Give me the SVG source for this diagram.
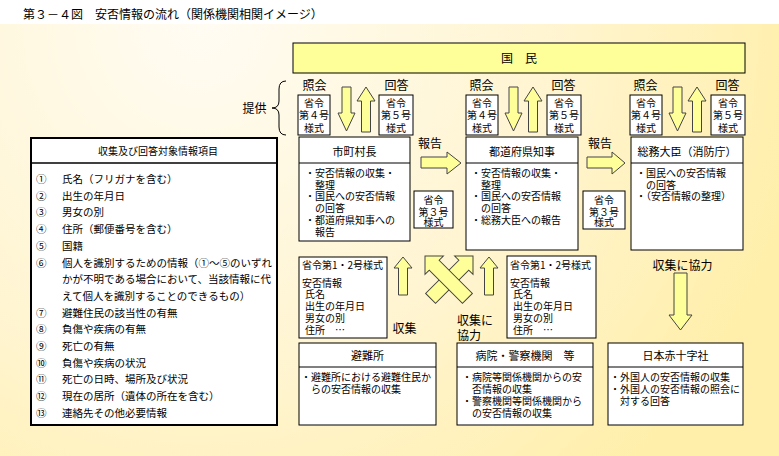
<svg xmlns="http://www.w3.org/2000/svg" width="779" height="456" viewBox="0 0 779 456">
<defs>
<radialGradient id="bg" gradientUnits="userSpaceOnUse" cx="200" cy="24" r="620">
<stop offset="0" stop-color="#FFFCF3"/>
<stop offset="0.55" stop-color="#FFF5D2"/>
<stop offset="1" stop-color="#FFEFAA"/>
</radialGradient>
<style>
text{font-family:"Noto Sans CJK JP","Noto Sans CJK SC",sans-serif;fill:#000}
.t12{font-size:12px}
.t11{font-size:11px}
.t10{font-size:10px}
.t105{font-size:10.5px}
.c{text-anchor:middle}
.box{fill:#fff;stroke:#000;stroke-width:1}
.line{stroke:#000;stroke-width:1;fill:none}
.arr{fill:#FFFF99;stroke:#444;stroke-width:1;stroke-linejoin:miter}
</style>
</defs>
<rect x="0" y="0" width="779" height="456" fill="#fff"/>
<rect x="0" y="24" width="779" height="432" fill="url(#bg)"/>
<text class="t12" x="23" y="18.5">第３－４図　安否情報の流れ（関係機関相関イメージ）</text>

<g id="kokumin">
<rect x="293" y="43" width="452" height="30" fill="#FFFF99" stroke="#000" stroke-width="1"/>
<text class="t12 c" x="519" y="63">国　民</text>
</g>

<g id="form4-1"><rect class="box" x="298" y="95" width="32" height="40"/><text class="t10 c" x="314" y="106.5">省令</text><text class="t10 c" x="314" y="119">第４号</text><text class="t10 c" x="314" y="131.5">様式</text></g>
<g id="form5-1"><rect class="box" x="379" y="95" width="34" height="40"/><text class="t10 c" x="396" y="106.5">省令</text><text class="t10 c" x="396" y="119">第５号</text><text class="t10 c" x="396" y="131.5">様式</text></g>
<g id="form4-2" transform="translate(168,0)"><rect class="box" x="298" y="95" width="32" height="40"/><text class="t10 c" x="314" y="106.5">省令</text><text class="t10 c" x="314" y="119">第４号</text><text class="t10 c" x="314" y="131.5">様式</text></g>
<g id="form5-2" transform="translate(168,0)"><rect class="box" x="379" y="95" width="34" height="40"/><text class="t10 c" x="396" y="106.5">省令</text><text class="t10 c" x="396" y="119">第５号</text><text class="t10 c" x="396" y="131.5">様式</text></g>
<g id="form4-3" transform="translate(332,0)"><rect class="box" x="298" y="95" width="32" height="40"/><text class="t10 c" x="314" y="106.5">省令</text><text class="t10 c" x="314" y="119">第４号</text><text class="t10 c" x="314" y="131.5">様式</text></g>
<g id="form5-3" transform="translate(332,0)"><rect class="box" x="379" y="95" width="34" height="40"/><text class="t10 c" x="396" y="106.5">省令</text><text class="t10 c" x="396" y="119">第５号</text><text class="t10 c" x="396" y="131.5">様式</text></g>

<g id="shichoson">
<rect class="box" x="299" y="137" width="111" height="104"/>
<line class="line" x1="299" y1="163" x2="410" y2="163"/>
<text class="t11 c" x="354.5" y="155.5">市町村長</text>
<text class="t10" x="305" y="177">・安否情報の収集・</text>
<text class="t10" x="315" y="188.7">整理</text>
<text class="t10" x="305" y="200.4">・国民への安否情報</text>
<text class="t10" x="315" y="212.1">の回答</text>
<text class="t10" x="305" y="223.8">・都道府県知事への</text>
<text class="t10" x="315" y="235.5">報告</text>
</g>

<g id="todofuken">
<rect class="box" x="466" y="137" width="112" height="113"/>
<line class="line" x1="466" y1="163" x2="578" y2="163"/>
<text class="t11 c" x="522" y="155.5">都道府県知事</text>
<text class="t10" x="471" y="177">・安否情報の収集・</text>
<text class="t10" x="481" y="188.7">整理</text>
<text class="t10" x="471" y="200.4">・国民への安否情報</text>
<text class="t10" x="481" y="212.1">の回答</text>
<text class="t10" x="471" y="223.8">・総務大臣への報告</text>
</g>

<g id="somu">
<rect class="box" x="631" y="137" width="112" height="113"/>
<line class="line" x1="631" y1="163" x2="743" y2="163"/>
<text class="t11 c" x="687" y="155.5">総務大臣（消防庁）</text>
<text class="t10" x="636" y="177">・国民への安否情報</text>
<text class="t10" x="646" y="188.7">の回答</text>
<text class="t10" x="636" y="200.4">・（安否情報の整理）</text>
</g>

<g id="form3-1"><rect class="box" x="414" y="191" width="39" height="37"/><text class="t10 c" x="433.5" y="204">省令</text><text class="t10 c" x="433.5" y="215.7">第３号</text><text class="t10 c" x="433.5" y="227.3" dy="-1">様式</text></g>
<g id="form3-2"><rect class="box" x="583" y="191" width="42" height="38"/><text class="t10 c" x="604" y="204">省令</text><text class="t10 c" x="604" y="215.7">第３号</text><text class="t10 c" x="604" y="227.3" dy="-1">様式</text></g>

<g id="form12-1">
<rect class="box" x="299" y="257" width="88" height="81"/>
<text class="t10" x="302" y="269">省令第1・2号様式</text>
<text class="t10" x="302" y="286.5">安否情報</text>
<text class="t10" x="305" y="298">氏名</text>
<text class="t10" x="305" y="310">出生の年月日</text>
<text class="t10" x="305" y="322">男女の別</text>
<text class="t10" x="305" y="334">住所　…</text>
</g>
<g id="form12-2">
<rect class="box" x="507" y="256" width="89" height="82"/>
<text class="t10" x="510" y="269">省令第1・2号様式</text>
<text class="t10" x="510" y="286.5">安否情報</text>
<text class="t10" x="513" y="298">氏名</text>
<text class="t10" x="513" y="310">出生の年月日</text>
<text class="t10" x="513" y="322">男女の別</text>
<text class="t10" x="513" y="334">住所　…</text>
</g>

<g id="hinanjo">
<rect class="box" x="299" y="343" width="137" height="82"/>
<line class="line" x1="299" y1="367" x2="436" y2="367"/>
<text class="t11 c" x="367.5" y="359.5">避難所</text>
<text class="t10" x="301" y="381">・避難所における避難住民か</text>
<text class="t10" x="311" y="393">らの安否情報の収集</text>
</g>

<g id="byoin">
<rect class="box" x="457" y="343" width="136" height="82"/>
<line class="line" x1="457" y1="367" x2="593" y2="367"/>
<text class="t11 c" x="525" y="359.5">病院・警察機関　等</text>
<text class="t10" x="462" y="381">・病院等関係機関からの安</text>
<text class="t10" x="472" y="393">否情報の収集</text>
<text class="t10" x="462" y="405">・警察機関等関係機関から</text>
<text class="t10" x="472" y="417">の安否情報の収集</text>
</g>

<g id="sekijuji">
<rect class="box" x="608" y="343" width="135" height="82"/>
<line class="line" x1="608" y1="367" x2="743" y2="367"/>
<text class="t11 c" x="675.5" y="359.5">日本赤十字社</text>
<text class="t10" x="610" y="381">・外国人の安否情報の収集</text>
<text class="t10" x="610" y="393">・外国人の安否情報の照会に</text>
<text class="t10" x="620" y="405">対する回答</text>
</g>

<g id="list">
<rect x="31" y="138" width="246" height="287" fill="#fff" stroke="#000" stroke-width="2"/>
<line x1="31" y1="163" x2="277" y2="163" stroke="#000" stroke-width="1.5"/>
<text class="t10 c" x="158" y="155">収集及び回答対象情報項目</text>
<g class="t105">
<text x="36" y="183">①</text><text x="62" y="183">氏名（フリガナを含む）</text>
<text x="36" y="199.7">②</text><text x="62" y="199.7">出生の年月日</text>
<text x="36" y="216.4">③</text><text x="62" y="216.4">男女の別</text>
<text x="36" y="233.1">④</text><text x="62" y="233.1">住所（郵便番号を含む）</text>
<text x="36" y="249.8">⑤</text><text x="62" y="249.8">国籍</text>
<text x="36" y="266.5">⑥</text><text x="62" y="266.5">個人を識別するための情報（①～⑤のいずれ</text>
<text x="62" y="283.2">かが不明である場合において、当該情報に代</text>
<text x="62" y="299.9">えて個人を識別することのできるもの）</text>
<text x="36" y="316.6">⑦</text><text x="62" y="316.6">避難住民の該当性の有無</text>
<text x="36" y="333.3">⑧</text><text x="62" y="333.3">負傷や疾病の有無</text>
<text x="36" y="350">⑨</text><text x="62" y="350">死亡の有無</text>
<text x="36" y="366.7">⑩</text><text x="62" y="366.7">負傷や疾病の状況</text>
<text x="36" y="383.4">⑪</text><text x="62" y="383.4">死亡の日時、場所及び状況</text>
<text x="36" y="400.1">⑫</text><text x="62" y="400.1">現在の居所（遺体の所在を含む）</text>
<text x="36" y="416.8">⑬</text><text x="62" y="416.8">連絡先その他必要情報</text>
</g>
</g>

<g id="connectors">
<path class="line" d="M286,81 Q279,81 279,89 V101 Q279,108 272,108 Q279,108 279,115 V127 Q279,135 286,135"/>
<text class="t12 c" x="254.5" y="112.5">提供</text>
<g id="query-answer-1">
<text class="t12 c" x="314.5" y="89.5">照会</text>
<text class="t12 c" x="396.5" y="89.5">回答</text>
<path class="arr" d="M342,87 H351 V113 H355 L346.5,131 L338,113 H342 Z"/>
<path class="arr" d="M366,87 L375,101 H370.5 V132 H361.5 V101 H357 Z"/>
</g>
<g id="query-answer-2" transform="translate(167,0)">
<text class="t12 c" x="314.5" y="89.5">照会</text>
<text class="t12 c" x="396.5" y="89.5">回答</text>
<path class="arr" d="M342,87 H351 V113 H355 L346.5,131 L338,113 H342 Z"/>
<path class="arr" d="M366,87 L375,101 H370.5 V132 H361.5 V101 H357 Z"/>
</g>
<g id="query-answer-3" transform="translate(331,0)">
<text class="t12 c" x="314.5" y="89.5">照会</text>
<text class="t12 c" x="396.5" y="89.5">回答</text>
<path class="arr" d="M342,87 H351 V113 H355 L346.5,131 L338,113 H342 Z"/>
<path class="arr" d="M366,87 L375,101 H370.5 V132 H361.5 V101 H357 Z"/>
</g>
<text class="t12 c" x="430" y="147.5">報告</text>
<path class="arr" d="M421,157 H447 V152 L461,163 L447,174 V168 H421 Z"/>
<text class="t12 c" x="600" y="147.5">報告</text>
<path class="arr" d="M587,157 H612 V152 L625,163 L612,174 V168 H587 Z"/>
<path class="arr" d="M403,257 L412,268 H407.5 V295 H398.5 V268 H394 Z"/>
<text class="t12 c" x="404.5" y="332.5">収集</text>
<path class="arr" transform="translate(473,256) rotate(45)" d="M0,0 L13,13 H7 V60 H-7 V13 H-13 Z"/>
<path class="arr" transform="translate(425,256) rotate(-45)" d="M0,0 L13,13 H7 V60 H-7 V13 H-13 Z"/>
<path class="arr" d="M489,257 L498,268 H493.5 V295 H484.5 V268 H480 Z"/>
<text class="t12" x="457" y="324.5">収集に</text>
<text class="t12" x="457" y="339.5">協力</text>
<text class="t12 c" x="682.5" y="269.5">収集に協力</text>
<path class="arr" d="M674,273 H687 V315 H692 L680.5,330 L669,315 H674 Z"/>
</g>
</svg>
